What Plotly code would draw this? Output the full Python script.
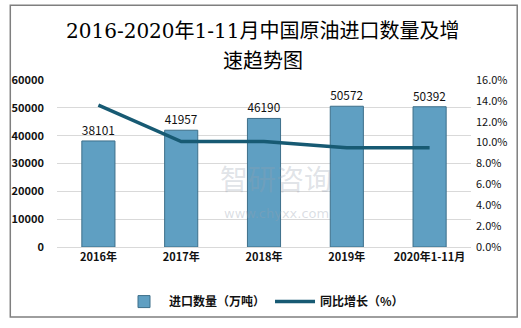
import plotly.graph_objects as go

categories = ["2016年", "2017年", "2018年", "2019年", "2020年1-11月"]
import_volume = [38101, 41957, 46190, 50572, 50392]
growth_rate = [13.6, 10.1, 10.1, 9.5, 9.5]
left_ticks = [0, 10000, 20000, 30000, 40000, 50000, 60000]
right_ticks = [0, 2, 4, 6, 8, 10, 12, 14, 16]
title_lines = ["2016-2020年1-11月中国原油进口数量及增", "速趋势图"]

font_cjk = "Noto Sans CJK SC, Noto Sans, sans-serif"
font_title = "DejaVu Serif, Noto Sans CJK SC, serif"

W, H = 521, 328
ML, MR, MT, MB = 50, 50, 80, 75
PW, PH = W - ML - MR, H - MT - MB

fig = go.Figure()
fig.add_trace(go.Bar(
    x=categories, y=import_volume, name="进口数量（万吨）",
    marker=dict(color="#5f9fc2", line=dict(color="#3d6f8a", width=1)),
    width=0.4,
    text=[str(v) for v in import_volume], textposition="outside",
    textfont=dict(size=12, color="#111", family=font_cjk),
    cliponaxis=False,
))
fig.add_trace(go.Scatter(
    x=categories, y=growth_rate, name="同比增长（%）", yaxis="y2",
    mode="lines", line=dict(color="#175a73", width=3.5),
))

fig.update_layout(
    width=W, height=H,
    margin=dict(l=ML, r=MR, t=MT, b=MB),
    paper_bgcolor="white", plot_bgcolor="white",
    bargap=0.6,
    xaxis=dict(tickfont=dict(size=11, family=font_cjk, color="#111", weight="bold"),
               showline=True, linecolor="#d9d9d9", ticks="", showgrid=False),
    yaxis=dict(range=[0, 60000], tickvals=left_ticks, tickformat="d", showgrid=True, gridcolor="#d9d9d9",
               tickfont=dict(size=11, family=font_cjk, color="#111", weight="bold"),
               zeroline=False, ticks="", ticklabelstandoff=12),
    yaxis2=dict(range=[0, 16], tickvals=right_ticks, overlaying="y", side="right",
                ticktext=[f"{v:.1f}%" for v in right_ticks], showgrid=False,
                tickfont=dict(size=11, family=font_cjk, color="#111"), zeroline=False,
                ticklabelstandoff=4),
    legend=dict(orientation="h", x=0.5, xanchor="center", y=-0.24, yanchor="top",
                font=dict(size=12, family=font_cjk, color="#111", weight="bold"),
                itemwidth=40, traceorder="normal"),
    showlegend=True,
)

fig.add_annotation(text=title_lines[0], xref="paper", yref="paper", x=0.497, y=1.295,
                   xanchor="center", yanchor="middle", showarrow=False,
                   font=dict(size=20, color="#000", family=font_title))
fig.add_annotation(text=title_lines[1], xref="paper", yref="paper", x=0.497, y=1.115,
                   xanchor="center", yanchor="middle", showarrow=False,
                   font=dict(size=20, color="#000", family=font_title))

fig.add_annotation(text="智研咨询", xref="paper", yref="paper", x=0.53, y=0.28,
                   showarrow=False, font=dict(size=28, color="rgba(150,160,175,0.3)", family=font_cjk))
fig.add_annotation(text="www.chyxx.com", xref="paper", yref="paper", x=0.53, y=0.145,
                   showarrow=False, font=dict(size=13, color="rgba(150,160,175,0.35)", family="DejaVu Sans"))

# outer chart frame (pixel positions converted to paper coordinates)
bx0, bx1, by0, by1 = 2.5, 518.0, 2.5, 325.5
fig.add_shape(type="rect", xref="paper", yref="paper",
              x0=(bx0 - ML) / PW, x1=(bx1 - ML) / PW,
              y0=(H - MB - by1) / PH, y1=(H - MB - by0) / PH,
              line=dict(color="#7f7f7f", width=1.5), layer="above")

fig.write_html("out.html")
